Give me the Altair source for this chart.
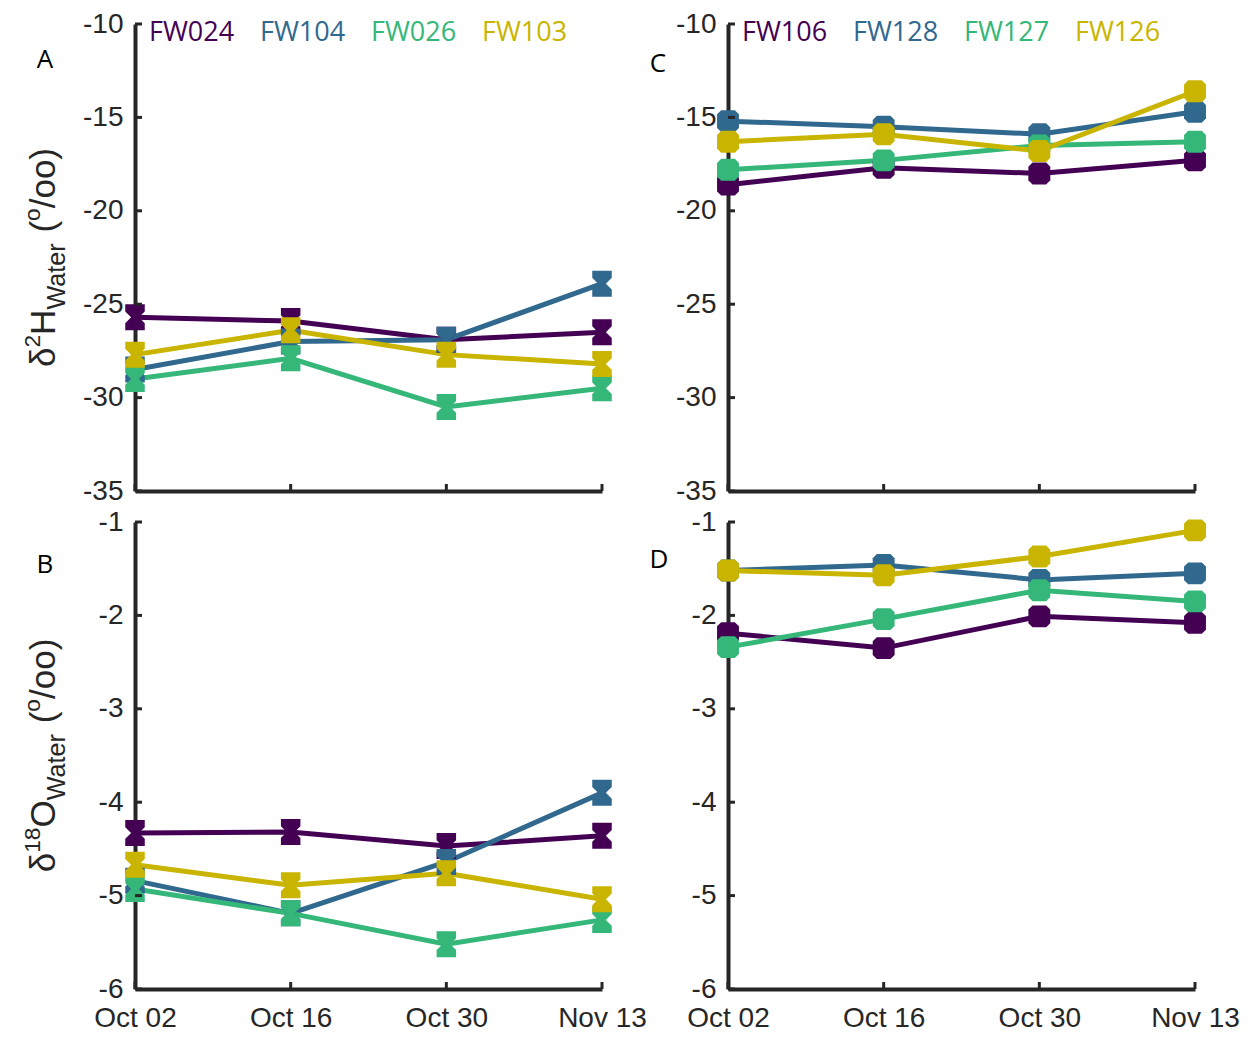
import altair as alt
import pandas as pd

# ---------------- data ----------------
DATES = ["Oct 02", "Oct 16", "Oct 30", "Nov 13"]

A_SERIES = ["FW024", "FW104", "FW026", "FW103"]
A_FW024 = [-25.7, -25.9, -26.9, -26.5]
A_FW104 = [-28.5, -27.0, -26.9, -23.9]
A_FW026 = [-29.0, -27.9, -30.5, -29.5]
A_FW103 = [-27.7, -26.4, -27.7, -28.2]

C_SERIES = ["FW106", "FW128", "FW127", "FW126"]
C_FW106 = [-18.6, -17.7, -18.0, -17.3]
C_FW128 = [-15.2, -15.5, -15.9, -14.7]
C_FW127 = [-17.8, -17.3, -16.5, -16.3]
C_FW126 = [-16.3, -15.9, -16.8, -13.6]

B_FW024 = [-4.33, -4.32, -4.47, -4.36]
B_FW104 = [-4.84, -5.19, -4.64, -3.90]
B_FW026 = [-4.93, -5.19, -5.52, -5.26]
B_FW103 = [-4.67, -4.89, -4.76, -5.04]

D_FW106 = [-2.19, -2.35, -2.01, -2.08]
D_FW128 = [-1.52, -1.46, -1.62, -1.55]
D_FW127 = [-2.34, -2.04, -1.73, -1.85]
D_FW126 = [-1.52, -1.57, -1.37, -1.09]

H_DOMAIN = [-35, -10]
H_TICKS = [-35, -30, -25, -20, -15, -10]
O_DOMAIN = [-6, -1]
O_TICKS = [-6, -5, -4, -3, -2, -1]

# ---------------- style ----------------
COLORS = ["#440154", "#31688e", "#35b779", "#c9b500"]
AX = "#262626"
TICK_FONT = "Liberation Sans"
LEG_FONT = "Open Sans"
W, H = 467, 467

HOURGLASS = "M-0.75,-1 L0.75,-1 L0.75,-0.45 L0.3,0 L0.75,0.45 L0.75,1 L-0.75,1 L-0.75,0.45 L-0.3,0 L-0.75,-0.45 Z"
ROUNDSQ = "M-0.62,-1 L0.62,-1 L1,-0.62 L1,0.62 L0.62,1 L-0.62,1 L-1,0.62 L-1,-0.62 Z"

EM = {'δ': 0.556, '2': 0.556, '1': 0.556, '8': 0.556, 'H': 0.722, 'O': 0.778,
      'W': 0.944, 'a': 0.556, 't': 0.278, 'e': 0.556, 'r': 0.333, ' ': 0.278,
      '(': 0.333, 'o': 0.556, '/': 0.278, ')': 0.333}

HYPHEN = "replace(datum.label, '\u2212', '-')"


def text_width(s, fs):
    return sum(EM.get(c, 0.55) for c in s) * fs


def title_layers(pieces, F, xb, h):
    # pieces: (text, scale, baseline shift in F units, gap before in F units)
    total = sum(text_width(t, F * sc) + g * F for t, sc, sh, g in pieces)
    y = h / 2 + total / 2
    layers = []
    for txt, sc, sh, g in pieces:
        fs = F * sc
        y -= g * F
        layers.append(
            alt.Chart(pd.DataFrame({"t": [txt]}))
            .mark_text(angle=270, align="left", baseline="alphabetic",
                       font=TICK_FONT, fontSize=fs, color=AX)
            .encode(text="t:N", x=alt.value(xb + sh * F), y=alt.value(y))
        )
        y -= text_width(txt, fs)
    return layers


def panel(series, values, ydom, yticks, letter, letter_xy, shape, msize,
          show_xlabels, show_legend, title_pieces=None):
    rows = []
    for s, vals in zip(series, values):
        for d, v in zip(DATES, vals):
            rows.append({"date": d, "series": s, "value": v})
    df = pd.DataFrame(rows)

    x = alt.X("date:N", sort=DATES,
              scale=alt.Scale(type="point", padding=0, domain=DATES),
              axis=alt.Axis(title=None, labels=show_xlabels, ticks=False,
                            domainWidth=4, domainColor=AX, grid=False,
                            labelAngle=0, labelFont=TICK_FONT, labelFontSize=28,
                            labelColor=AX, labelPadding=15))
    y = alt.Y("value:Q", scale=alt.Scale(domain=ydom, nice=False, zero=False),
              axis=alt.Axis(title=None, values=yticks, ticks=False,
                            domainWidth=4, domainColor=AX, grid=False,
                            labelFont=TICK_FONT, labelFontSize=28,
                            labelExpr=HYPHEN,
                            labelColor=AX, labelPadding=12))
    color = alt.Color("series:N", scale=alt.Scale(domain=series, range=COLORS),
                      legend=None)

    base = alt.Chart(df)
    lines = base.mark_line(strokeWidth=5).encode(x=x, y=y, color=color)
    pts = base.mark_point(shape=shape, filled=True, size=msize, opacity=1,
                          strokeWidth=0).encode(x=x, y=y, color=color)

    yt = alt.Chart(pd.DataFrame({"value": yticks})).mark_rule(
        strokeWidth=3, color=AX).encode(y=y, x=alt.value(0), x2=alt.value(7))
    xt = alt.Chart(pd.DataFrame({"date": DATES})).mark_rule(
        strokeWidth=3, color=AX).encode(x=x, y=alt.value(H), y2=alt.value(H - 7))

    leg_x = [14, 125, 236, 347]
    legend = [
        alt.Chart(pd.DataFrame({"t": [s]}))
        .mark_text(align="left", baseline="alphabetic", font=LEG_FONT,
                   fontSize=27, color=COLORS[i])
        .encode(text="t:N", x=alt.value(leg_x[i]), y=alt.value(17))
        for i, s in enumerate(series)
    ]

    let = alt.Chart(pd.DataFrame({"t": [letter]})).mark_text(
        align="center", baseline="middle", font=LEG_FONT, fontSize=26,
        color="#000000").encode(text="t:N", x=alt.value(letter_xy[0]),
                                 y=alt.value(letter_xy[1]))

    layers = [lines, pts, yt, xt, let]
    if show_legend:
        layers += legend
    if title_pieces:
        layers += title_layers(title_pieces, 35, -80, H)
    return alt.layer(*layers).properties(width=W, height=H)


H_TITLE = [("δ", 1, 0, 0), ("2", 0.65, -0.42, 0), ("H", 1, 0, 0),
           ("Water", 0.72, 0.28, 0), ("(", 1, 0, 0.28), ("o", 0.65, -0.42, 0),
           ("/oo)", 1, 0, 0)]
O_TITLE = [("δ", 1, 0, 0), ("18", 0.65, -0.42, 0), ("O", 1, 0, 0),
           ("Water", 0.72, 0.28, 0), ("(", 1, 0, 0.28), ("o", 0.65, -0.42, 0),
           ("/oo)", 1, 0, 0)]

pA = panel(A_SERIES, [A_FW024, A_FW104, A_FW026, A_FW103], H_DOMAIN, H_TICKS,
           "A", (-90, 36), HOURGLASS, 676, False, True, H_TITLE)
pC = panel(C_SERIES, [C_FW106, C_FW128, C_FW127, C_FW126], H_DOMAIN, H_TICKS,
           "C", (-70, 40), ROUNDSQ, 480, False, True)
pB = panel(A_SERIES, [B_FW024, B_FW104, B_FW026, B_FW103], O_DOMAIN, O_TICKS,
           "B", (-90, 43), HOURGLASS, 676, True, False, O_TITLE)
pD = panel(C_SERIES, [D_FW106, D_FW128, D_FW127, D_FW126], O_DOMAIN, O_TICKS,
           "D", (-69, 38), ROUNDSQ, 480, True, False)

chart = alt.ConcatChart(
    concat=[pA, pC, pB, pD], columns=2,
    spacing={"row": 31, "column": 126}, bounds="flush",
    padding={"left": 14, "top": 2, "right": 5, "bottom": 5},
).resolve_scale(x="independent", y="independent", color="independent"
).configure_view(stroke=None)

chart.save("out.html", embed_options={"renderer": "svg", "actions": False})
